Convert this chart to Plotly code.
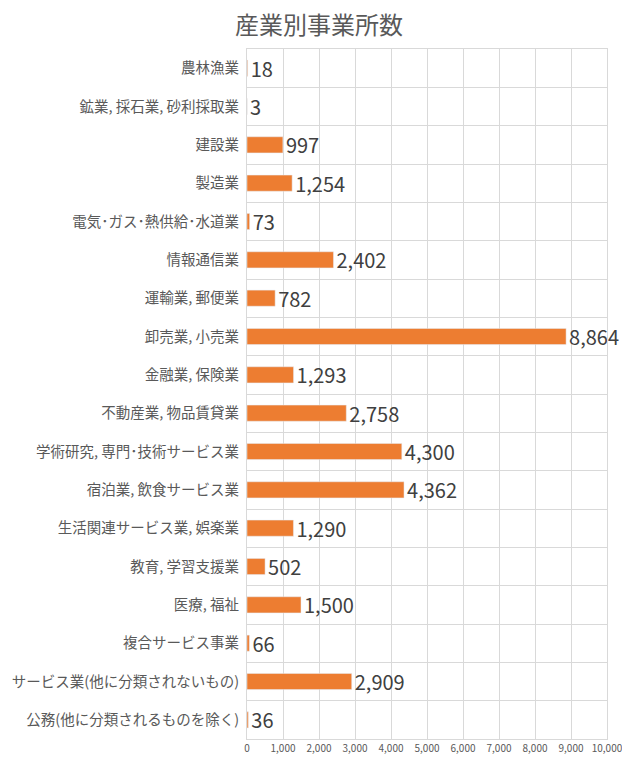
import plotly.graph_objects as go

# 産業別事業所数
industries = [
    "農林漁業", "鉱業, 採石業, 砂利採取業", "建設業", "製造業",
    "電気･ガス･熱供給･水道業", "情報通信業", "運輸業, 郵便業", "卸売業, 小売業",
    "金融業, 保険業", "不動産業, 物品賃貸業", "学術研究, 専門･技術サービス業",
    "宿泊業, 飲食サービス業", "生活関連サービス業, 娯楽業", "教育, 学習支援業",
    "医療, 福祉", "複合サービス事業", "サービス業(他に分類されないもの)",
    "公務(他に分類されるものを除く)",
]
counts = [18, 3, 997, 1254, 73, 2402, 782, 8864, 1293, 2758, 4300,
          4362, 1290, 502, 1500, 66, 2909, 36]
x_ticks = list(range(0, 10001, 1000))

font = "Noto Sans CJK JP"

fig = go.Figure(go.Bar(
    x=counts,
    y=industries,
    orientation="h",
    marker=dict(color="#ED7D31"),
    width=0.42,
    text=[f"{v:,}" for v in counts],
    textposition="outside",
    constraintext="none",
    textfont=dict(size=20, color="#404040", family=font),
    cliponaxis=False,
))

# page body has an 8px margin, so the figure is a bit smaller than the window
fig.update_layout(
    width=622, height=772,
    paper_bgcolor="white", plot_bgcolor="white",
    margin=dict(l=239, r=23, t=41, b=41),
    showlegend=False,
    font=dict(family=font),
)
# title centred on the whole figure (plot spans 239..599 of 622px)
fig.add_annotation(
    text="産業別事業所数", xref="paper", yref="paper",
    x=(311 - 239) / 360, y=1, xanchor="center", yanchor="bottom",
    yshift=6, showarrow=False,
    font=dict(size=24, color="#595959", family=font),
)
fig.update_xaxes(
    range=[0, 10000], tickvals=x_ticks,
    ticktext=[f"{v:,}" for v in x_ticks],
    tickfont=dict(size=10, color="#595959"),
    showgrid=True, gridcolor="#D9D9D9", gridwidth=1,
    zeroline=False, showline=True, linecolor="#D9D9D9", mirror=True,
    automargin=False,
)
fig.update_yaxes(
    autorange="reversed", tickson="boundaries",
    showgrid=True, gridcolor="#D9D9D9", gridwidth=1,
    tickfont=dict(size=14.5, color="#595959"),
    ticks="", ticklabelstandoff=4,
    showline=True, linecolor="#D9D9D9", mirror=True,
    automargin=False,
)

fig.write_html("out.html")
